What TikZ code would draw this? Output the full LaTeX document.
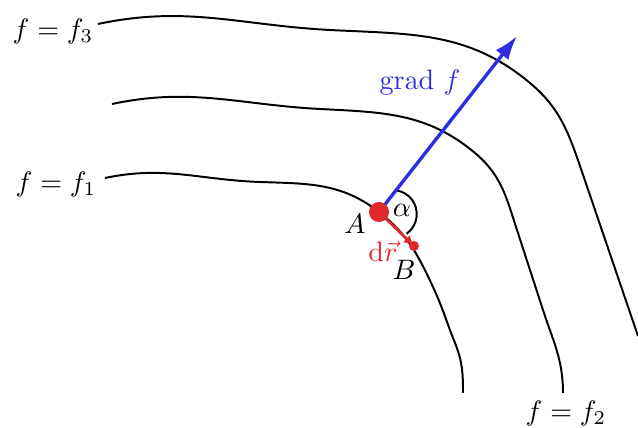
\documentclass[tikz,border=0pt]{standalone}
\usepackage{amsmath,amssymb}
\usepackage{xcolor}
\definecolor{gradblue}{RGB}{45,45,225}
\definecolor{drred}{RGB}{225,40,45}
\usepackage{tikz}
\usetikzlibrary{positioning,arrows.meta,calc}

\begin{document}
\begin{tikzpicture}[x=0.0125cm,y=0.0125cm,
      level/.style={line width=0.7pt,black},
      gradarr/.style={-{Latex[length=3mm,width=2mm]},line width=1.2pt,gradblue},
      drarr/.style={-{Latex[length=1.3mm,width=1.2mm]},line width=1pt,drred},
      bigdot/.style={circle,fill=drred,minimum size=2.5mm,inner sep=0pt},
      smalldot/.style={circle,fill=drred,minimum size=1.25mm,inner sep=0pt}]
    \useasboundingbox (0,0) rectangle (638,428);
    % points
    \coordinate (A) at (379,216);
    \coordinate (B) at (414,182);
    \coordinate (T) at (517,392);
    % level lines
    \draw[level] (105,250) to[out=12,in=178] (260,246) to[out=-2,in=142] (A)
      to[out=-38,in=115] (433,141) to[out=-65,in=112] (455,85) to[out=-68,in=90] (463,35);
    \draw[level] (112,324) to[out=12,in=177] (320,319) to[out=-3,in=140] (475,275)
      to[out=-40,in=108] (517,198) -- (543,118) to[out=-72,in=90] (563,35);
    \draw[level] (98,404) to[out=12,in=177] (330,398) to[out=-3,in=140] (530,345)
      to[out=-40,in=109] (580,262) -- (638,92);
    % angle between grad f and dr
    \draw[level] (A) ++(16.7,21.7) arc[start angle=83,end angle=-55,radius=3mm];
    % vectors
    \draw[gradarr] (A) -- (T);
    \draw[drarr] (A) -- (B);
    \node[bigdot] (Adot) at (A) {};
    \node[smalldot] (Bdot) at (B) {};
    % labels
    \node (f3) at (53,397) {$f=f_3$};
    \node (f1) at (56,244) {$f=f_1$};
    \node (f2) at (566,15) {$f=f_2$};
    \node[gradblue] (lgrad) at (420,346) {$\mathrm{grad}\ f$};
    \node (lA) at (355,204) {$A$};
    \node (lalpha) at (402,218) {$\alpha$};
    \node[drred] (ldr) at (383,177) {$\mathrm{d}\vec{r}$};
    \node (lB) at (404,158) {$B$};
  \end{tikzpicture}
\end{document}
